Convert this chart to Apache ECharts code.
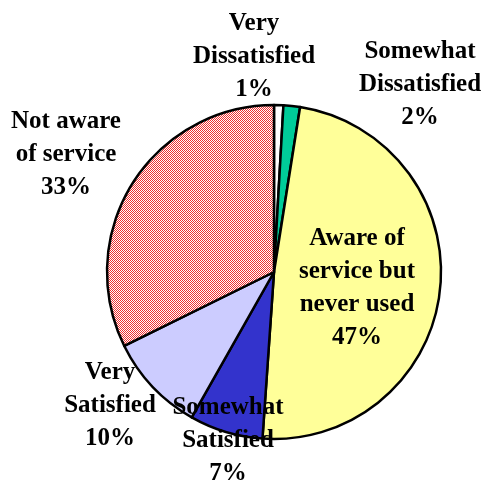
<!DOCTYPE html>
<html>
<head>
<meta charset="utf-8">
<script src="https://cdn.jsdelivr.net/npm/echarts@6/dist/echarts.min.js"></script>
<style>html,body{margin:0;padding:0;background:#fff;}#c{width:485px;height:483px;}</style>
</head>
<body>
<div id="c"></div>
<script>
var categories = ['Very\nDissatisfied', 'Somewhat\nDissatisfied', 'Aware of\nservice but\nnever used', 'Somewhat\nSatisfied', 'Very\nSatisfied', 'Not aware\nof service'];
var values = [0.9, 1.6, 48.6, 7.1, 9.5, 32.3];
var printedPct = [1, 2, 47, 7, 10, 33];

// hatch pattern for "Not aware of service"
function makeHatch() {
  var cv = document.createElement('canvas');
  cv.width = 4; cv.height = 4;
  var ctx = cv.getContext('2d');
  ctx.fillStyle = '#ffffff';
  ctx.fillRect(0, 0, 4, 4);
  ctx.fillStyle = '#f03030';
  for (var x = 0; x < 4; x++) {
    for (var y = 0; y < 4; y++) {
      if ((x + y) % 2 === 0) {
        ctx.fillRect(x, y, 1, 1);
      }
    }
  }
  return cv;
}
var colors = ['#ffffff', '#00cc99', '#ffff99', '#3333cc', '#ccccff', { image: makeHatch(), repeat: 'repeat' }];
var labelCenters = [[254, 57], [420, 85], [357, 288], [228, 441], [110, 406], [66, 155]];

var data = categories.map(function (c, i) {
  return { name: c, value: values[i], itemStyle: { color: colors[i] } };
});

var chart = echarts.init(document.getElementById('c'), null, { renderer: 'canvas' });
chart.setOption({
  backgroundColor: '#ffffff',
  animation: false,
  series: [{
    type: 'pie',
    center: [274, 272],
    radius: 167,
    startAngle: 90,
    clockwise: true,
    avoidLabelOverlap: false,
    data: data,
    itemStyle: { borderColor: '#000000', borderWidth: 2.5 },
    label: {
      show: true,
      position: 'inside',
      color: '#000000',
      fontFamily: '"Liberation Serif", "Times New Roman", serif',
      fontWeight: 'bold',
      fontSize: 25,
      lineHeight: 33,
      align: 'center',
      overflow: 'none',
      textBorderWidth: 0,
      formatter: function (p) { return p.name + '\n' + printedPct[p.dataIndex] + '%'; }
    },
    labelLine: { show: false },
    labelLayout: function (p) {
      var c = labelCenters[p.dataIndex];
      return { x: c[0], y: c[1], align: 'center', verticalAlign: 'middle', hideOverlap: false, moveOverlap: null };
    },
    emphasis: { disabled: true }
  }]
});
</script>
</body>
</html>
